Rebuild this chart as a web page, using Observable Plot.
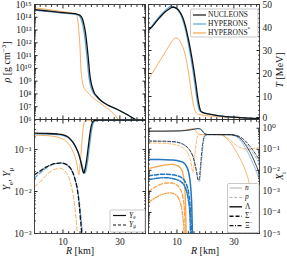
<!DOCTYPE html>
<html><head><meta charset="utf-8">
<script src="https://cdn.jsdelivr.net/npm/d3@7"></script>
<script src="https://cdn.jsdelivr.net/npm/@observablehq/plot@0.6"></script>
<style>
body{margin:0;background:#fff;}
#fig{position:relative;width:287px;height:257px;overflow:hidden;background:#fff;}
</style></head><body><div id="fig"></div>
<script>
// ---------- DATA ----------
const models = ["NUCLEONS", "HYPERONS", "HYPERONS*"];
const xMajor = [10, 30];
const xMinor = [2, 4, 6, 8, 12, 14, 16, 18, 20, 22, 24, 26, 28, 32, 34, 36, 38];
const tMajorUpper = [10, 20, 30, 40, 50];
const tMajorZero = [0];

// density, log10(rho / g cm^-3)
const R_rhoN = [0,3,6,9,12,15,16,16.8,17.4,17.9,18.4,18.9,19.3,19.7,20.2,21,22,23.5,26,29,32,35.5,37];
const lgRhoN = [14.6,14.53,14.46,14.39,14.32,14.24,14.15,13.9,13.4,12.8,11.9,10.8,9.8,9.1,8.6,8.1,7.8,7.45,7.1,6.8,6.45,6.0,5.8];
const R_rhoH = [0,3,6,9,12,15,15.7,16.4,17.0,17.5,18.0,18.5,18.9,19.3,19.8,20.6,21.7,23.5,26,29,32,35.5,37];
const lgRhoH = [14.56,14.49,14.42,14.35,14.29,14.21,14.12,13.85,13.35,12.7,11.8,10.7,9.75,9.05,8.55,8.1,7.8,7.45,7.1,6.8,6.45,6.0,5.8];
const R_rhoHs = [0,5,10,14,14.8,15.3,15.7,16.0,16.3,16.6,17.0,17.6,18.5,20,23,26,28,29.5,30.5];
const lgRhoHs = [14.74,14.6,14.44,14.28,14.15,13.6,12.6,11.6,10.0,9.3,8.75,8.4,8.15,7.8,7.3,6.8,6.4,6.0,5.7];

// temperature, MeV
const R_TN = [0,1,3,5,7,8.5,10,11,12,13,14,15,16,16.7,17.3,17.8,18.3,19,21,25,30,35,39];
const TN = [39,40,43,45.8,47.8,48.8,48.2,46.8,44.5,40.5,35,28.5,21,15,9.5,6,3.8,3.1,2.4,1.6,1.0,0.6,0.4];
const R_TH = [0,2,4,6,8,9,10,11,12,13,14,15,16,16.6,17.2,17.7,18.3,19,21,25,30,35,39];
const TH = [38.4,42,45,47.5,49.3,49,48,46.3,43.5,39,33,26,18,12.5,7.5,4.6,3.4,3.0,2.4,1.6,1.0,0.6,0.4];
const R_THs = [0,2,4,6,8,9.5,10.5,11.5,12.5,13.5,14.3,15,15.5,16,16.6,17.5,20,25,30,35,39];
const THs = [17.7,21.5,25.5,29.5,33.5,35.5,35,33,30,24.5,18.4,12.5,8.3,5.3,3.2,2.3,1.7,1.2,0.8,0.5,0.35];

// electron fraction
const R_YeN = [0,4,8,10,11.5,12.5,13.5,14.5,15.5,16.3,16.9,17.3,17.7,18.2,18.7,19.2,19.7,20.2,20.8,22,39];
const YeN = [0.245,0.242,0.235,0.225,0.205,0.18,0.15,0.115,0.08,0.05,0.032,0.027,0.033,0.05,0.09,0.17,0.3,0.42,0.48,0.5,0.5];
const R_YeH = [0,4,8,10,11.5,12.5,13.5,14.5,15.5,16.5,17.2,17.7,18.1,18.6,19.1,19.6,20.1,20.6,21.2,22.5,39];
const YeH = [0.235,0.233,0.226,0.216,0.198,0.175,0.145,0.112,0.078,0.048,0.032,0.027,0.032,0.05,0.09,0.17,0.3,0.42,0.48,0.5,0.5];
const R_YeHs = [0,4,7,9,10.5,12,13.2,14.2,14.9,15.3,15.6,15.9,16.2,16.5,16.8,17.1,17.5,18.2,39];
const YeHs = [0.22,0.215,0.205,0.19,0.17,0.135,0.1,0.068,0.045,0.03,0.025,0.035,0.06,0.11,0.2,0.33,0.45,0.5,0.5];

// muon fraction
const R_YmN = [0,2,4,6,8,9.5,11,12.5,13.5,14.3,14.9,15.4,15.8,16.2,16.5,16.8];
const YmN = [0.025,0.031,0.038,0.044,0.047,0.048,0.045,0.037,0.028,0.019,0.013,0.0075,0.0042,0.002,0.0012,0.0007];
const R_YmH = [0,2,4,6,8,9.5,11,12.5,13.5,14.3,15,15.6,16.1,16.5,16.9];
const YmH = [0.021,0.028,0.036,0.043,0.047,0.047,0.044,0.036,0.027,0.019,0.012,0.0068,0.0035,0.0018,0.0009];
const R_YmHs = [0,2,4,6,8,9,10.5,12,13,13.7,14.3,14.8,15.1];
const YmHs = [0.013,0.017,0.024,0.031,0.035,0.036,0.032,0.022,0.013,0.0075,0.0035,0.0016,0.0009];

// mass fractions: neutrons
const R_nN = [0,5,10,13,15,16.5,17.3,18,18.6,19.2,19.8,21,29,30,32,34,36,38,39];
const XnN = [0.73,0.73,0.74,0.78,0.85,0.93,0.96,0.93,0.83,0.65,0.54,0.5,0.49,0.47,0.35,0.17,0.06,0.015,0.007];
const R_nH = [0,5,10,13,15,16.5,17.6,18.3,18.9,19.5,20.1,21.5,29,30,32,34,36,38,39];
const XnH = [0.72,0.72,0.74,0.79,0.86,0.93,0.96,0.92,0.8,0.63,0.54,0.5,0.49,0.45,0.3,0.12,0.035,0.008,0.0035];
const R_nHs = [0,5,9,11,13,14.5,15.5,16.1,16.6,17.1,17.8,19,25,26.5,28,30,32,34,35.5,36.5,37.5];
const XnHs = [0.72,0.72,0.73,0.76,0.83,0.9,0.95,0.9,0.75,0.6,0.52,0.5,0.5,0.42,0.28,0.12,0.04,0.01,0.002,0.0002,0.000005];
// protons
const R_pN = [0,4,8,10,12,13.5,14.5,15.5,16.3,16.9,17.4,17.8,18.2,18.6,19,19.5,20,21,29,30,32,34,36,38,39];
const XpN = [0.25,0.245,0.235,0.22,0.18,0.13,0.09,0.05,0.02,0.008,0.0035,0.0035,0.012,0.05,0.17,0.38,0.47,0.5,0.5,0.48,0.4,0.25,0.12,0.05,0.03];
const R_pH = [0,4,8,10,12,13.5,14.5,15.5,16.5,17.1,17.6,18,18.4,18.8,19.2,19.7,20.3,21.5,29,30,32,34,36,38,39];
const XpH = [0.235,0.232,0.222,0.21,0.17,0.125,0.088,0.05,0.018,0.007,0.003,0.003,0.011,0.045,0.15,0.36,0.46,0.5,0.5,0.47,0.36,0.2,0.09,0.035,0.02];
const R_pHs = [0,4,7,9,10.5,12,13.2,14.2,14.9,15.3,15.6,15.9,16.2,16.5,16.8,17.1,17.5,18.2,25,27,29,31,33,35,37,39];
const XpHs = [0.2,0.195,0.185,0.17,0.15,0.12,0.085,0.05,0.025,0.012,0.008,0.013,0.04,0.1,0.22,0.36,0.46,0.5,0.5,0.4,0.25,0.15,0.11,0.1,0.11,0.13];
// hyperons (HYPERONS)
const R_LH = [0,4,8,10,11.5,12.5,13.3,14,14.5,14.9,15.2,15.5];
const XLH = [0.033,0.033,0.031,0.029,0.026,0.022,0.016,0.009,0.004,0.0012,0.0002,0.000005];
const R_SH = [0,3,5.5,8,10,11.5,12.5,13.3,14,14.5,14.9,15.2];
const XSH = [0.0055,0.0062,0.0066,0.0063,0.0056,0.0046,0.0035,0.0022,0.001,0.0003,0.00005,0.000005];
const R_XH = [0,3,5.5,8,10,11.5,12.5,13.3,14,14.5,14.8];
const XXH = [0.0036,0.0042,0.0045,0.0042,0.0036,0.0028,0.002,0.0011,0.0004,0.0001,0.000005];
// hyperons (HYPERONS*)
const R_LHs = [0,3,6,8,10,11,12,12.6,13.0,13.3];
const XLHs = [0.012,0.015,0.018,0.019,0.017,0.014,0.008,0.0025,0.0003,0.000005];
const R_SHs = [0,3,6,8,10,11,12,12.6,13];
const XSHs = [0.001,0.0018,0.0025,0.0025,0.002,0.0014,0.0006,0.00015,0.000005];
const R_XHs = [0,3,6,8,9.5,10.8,11.8,12.4,12.7];
const XXHs = [0.0003,0.00055,0.0008,0.00085,0.0007,0.0004,0.00012,0.00002,0.000005];

// ---------- STYLE ----------
const FONT = '"Liberation Serif", "DejaVu Serif", serif';
const C = {N: "#111111", H: "#5aa6dc", Hs: "#f7a44d", Hd: "#1f77c0", Hn: "#79b3df"};
const SUP = {"0":"⁰","1":"¹","2":"²","3":"³","4":"⁴","5":"⁵","6":"⁶","7":"⁷","8":"⁸","9":"⁹","-":"⁻"};
const pow10 = d => "10" + String(Math.round(Math.log10(d))).split("").map(c => SUP[c]).join("");
const decades = (a, b) => d3.range(a, b + 1).map(e => +(10 ** e).toPrecision(6));
const minors = (a, b, hi) => { const o = []; for (let e = a; e <= b; e++) for (let k = 2; k <= 9; k++) { const v = +(k * 10 ** e).toPrecision(6); if (v < hi) o.push(v); } return o; };
const tbl = (Rs, vs, f = v => v) => Rs.map((R, i) => ({R, v: f(vs[i])}));
const L = (data, o) => Plot.line(data, {x: "R", y: "v", curve: "monotone-x", clip: true, ...o});

const TK = 3.5, TKm = 1.8, blank = () => "";
function xAxes(labels) {
  return [
    Plot.axisX({anchor: "bottom", ticks: xMajor, tickSize: -TK, tickPadding: 8, tickFormat: labels ? d => String(d) : blank, label: null}),
    Plot.axisX({anchor: "bottom", ticks: xMinor, tickSize: -TKm, tickFormat: blank, label: null}),
    Plot.axisX({anchor: "top", ticks: xMajor, tickSize: -TK, tickFormat: blank, label: null}),
    Plot.axisX({anchor: "top", ticks: xMinor, tickSize: -TKm, tickFormat: blank, label: null})
  ];
}
function yAxes(side, major, minor, fmt, extra = []) {
  const other = side === "left" ? "right" : "left";
  return [
    Plot.axisY({anchor: side, ticks: major, tickSize: -TK, tickPadding: 6.5, tickFormat: fmt, label: null}),
    Plot.axisY({anchor: side, ticks: minor, tickSize: -TKm, tickFormat: blank, label: null}),
    Plot.axisY({anchor: other, ticks: major, tickSize: -TK, tickFormat: blank, label: null}),
    Plot.axisY({anchor: other, ticks: minor, tickSize: -TKm, tickFormat: blank, label: null}),
    ...extra
  ];
}
const fig = document.getElementById("fig");
function panel({left, top, width, height, mt, mr, mb, ml, y, marks}) {
  const svg = Plot.plot({
    width, height, marginTop: mt, marginRight: mr, marginBottom: mb, marginLeft: ml,
    style: {fontFamily: FONT, fontSize: "9.5px", background: "transparent", overflow: "visible", color: "#222"},
    x: {domain: [0, 39]}, y, marks
  });
  Object.assign(svg.style, {position: "absolute", left: left + "px", top: top + "px"});
  fig.appendChild(svg);
}
const frame = Plot.frame({stroke: "#333", strokeWidth: 0.9});
const exp10 = v => 10 ** v;

// ---------- TOP LEFT: density ----------
panel({left: 0, top: 0, width: 146, height: 121, mt: 4, mb: 2, ml: 34, mr: 1,
  y: {type: "log", domain: [1e6, 1e15]},
  marks: [
    L(tbl(R_rhoHs, lgRhoHs, exp10), {stroke: C.Hs, strokeWidth: 0.9}),
    L(tbl(R_rhoH, lgRhoH, exp10), {stroke: C.H, strokeWidth: 1.2}),
    L(tbl(R_rhoN, lgRhoN, exp10), {stroke: C.N, strokeWidth: 1.3}),
    ...xAxes(false), ...yAxes("left", decades(6, 15), minors(6, 14, 1e15), pow10), frame
  ]});

// ---------- TOP RIGHT: temperature ----------
panel({left: 147, top: 0, width: 140, height: 121, mt: 4, mb: 2, ml: 1, mr: 28,
  y: {domain: [0, 50]},
  marks: [
    L(tbl(R_THs, THs), {stroke: C.Hs, strokeWidth: 0.9}),
    L(tbl(R_TH, TH), {stroke: C.H, strokeWidth: 1.2}),
    L(tbl(R_TN, TN), {stroke: C.N, strokeWidth: 1.3}),
    ...xAxes(false),
    ...yAxes("right", tMajorUpper, d3.range(2, 50, 2).filter(d => d % 10), d => String(d), [
      Plot.axisY({anchor: "right", ticks: tMajorZero, tickSize: -TK, tickPadding: 6.5, dy: -2, tickFormat: d => String(d), label: null}),
      Plot.axisY({anchor: "left", ticks: tMajorZero, tickSize: -TK, tickFormat: blank, label: null})
    ]),
    frame
  ]});

// ---------- BOTTOM LEFT: Ye, Ymu ----------
const dashM = "4,2.4";
panel({left: 0, top: 117, width: 146, height: 140, mt: 2, mb: 24, ml: 34, mr: 1,
  y: {type: "log", domain: [1e-3, 0.52]},
  marks: [
    L(tbl(R_YmHs, YmHs), {stroke: C.Hs, strokeWidth: 0.9, strokeDasharray: dashM}),
    L(tbl(R_YmH, YmH), {stroke: C.H, strokeWidth: 1.2, strokeDasharray: dashM}),
    L(tbl(R_YmN, YmN), {stroke: C.N, strokeWidth: 1.3, strokeDasharray: dashM}),
    L(tbl(R_YeHs, YeHs), {stroke: C.Hs, strokeWidth: 0.9}),
    L(tbl(R_YeH, YeH), {stroke: C.H, strokeWidth: 1.2}),
    L(tbl(R_YeN, YeN), {stroke: C.N, strokeWidth: 1.3}),
    ...xAxes(true), ...yAxes("left", decades(-3, -1), minors(-3, -1, 0.52), pow10), frame
  ]});

// ---------- BOTTOM RIGHT: mass fractions ----------
const dp = "3,1.8", dS = "4,2", dX = "4,1.5,1,1.5";
panel({left: 147, top: 117, width: 140, height: 140, mt: 2, mb: 24, ml: 1, mr: 28,
  y: {type: "log", domain: [1e-5, 2.6]},
  marks: [
    L(tbl(R_nHs, XnHs), {stroke: C.Hs, strokeWidth: 0.8}),
    L(tbl(R_pHs, XpHs), {stroke: C.Hs, strokeWidth: 0.8, strokeDasharray: dp}),
    L(tbl(R_nH, XnH), {stroke: C.Hn, strokeWidth: 0.8}),
    L(tbl(R_pH, XpH), {stroke: C.Hn, strokeWidth: 0.8, strokeDasharray: dp}),
    L(tbl(R_nN, XnN), {stroke: C.N, strokeWidth: 0.8}),
    L(tbl(R_pN, XpN), {stroke: C.N, strokeWidth: 0.8, strokeDasharray: dp}),
    L(tbl(R_LHs, XLHs), {stroke: C.Hs, strokeWidth: 1.3}),
    L(tbl(R_SHs, XSHs), {stroke: C.Hs, strokeWidth: 1.3, strokeDasharray: dS}),
    L(tbl(R_XHs, XXHs), {stroke: C.Hs, strokeWidth: 1.3, strokeDasharray: dX}),
    L(tbl(R_LH, XLH), {stroke: C.Hd, strokeWidth: 1.5}),
    L(tbl(R_SH, XSH), {stroke: C.Hd, strokeWidth: 1.5, strokeDasharray: dS}),
    L(tbl(R_XH, XXH), {stroke: C.Hd, strokeWidth: 1.5, strokeDasharray: dX}),
    ...xAxes(true), ...yAxes("right", decades(-5, 0), minors(-5, 0, 2.6), pow10), frame
  ]});

// ---------- OVERLAY: axis labels and legends ----------
const ov = d3.select(fig).append("svg").attr("width", 287).attr("height", 257)
  .style("position", "absolute").style("left", "0").style("top", "0")
  .style("overflow", "visible").style("font-family", FONT).attr("fill", "#111");

function rich(g, x, y, segs, {size = 10, rotate = 0, anchor = "middle"} = {}) {
  const t = g.append("text").attr("transform", `translate(${x},${y}) rotate(${rotate})`)
    .attr("text-anchor", anchor).attr("font-size", size).attr("dominant-baseline", "middle");
  let shift = 0;
  for (const s of segs) {
    const ts = t.append("tspan").text(s.t);
    const target = s.sup ? -size * 0.38 : s.sub ? size * 0.28 : 0;
    if (target !== shift) { ts.attr("dy", target - shift); shift = target; }
    if (s.sup || s.sub) ts.attr("font-size", size * 0.7);
    if (s.it) ts.attr("font-style", "italic");
  }
  return t;
}
rich(ov, 8, 62, [{t: "ρ", it: true}, {t: "  [g cm"}, {t: "−3", sup: true}, {t: "]"}], {rotate: -90});
rich(ov, 281, 70, [{t: "T", it: true}, {t: "  [MeV]"}], {rotate: -90});
rich(ov, 8, 179, [{t: "Y", it: true}, {t: "e", sub: true}, {t: ",  "}, {t: "Y", it: true}, {t: "μ", sub: true}], {rotate: -90});
rich(ov, 281, 176, [{t: "X", it: true}, {t: "i", sub: true}], {rotate: -90});
rich(ov, 80, 252, [{t: "R", it: true}, {t: "  [km]"}]);
rich(ov, 205, 252, [{t: "R", it: true}, {t: "  [km]"}]);

function legendBox(x, y, w, h) {
  ov.append("rect").attr("x", x).attr("y", y).attr("width", w).attr("height", h)
    .attr("rx", 1.5).attr("fill", "#fff").attr("stroke", "#bbb").attr("stroke-width", 0.8);
}
function swatch(x1, x2, y, stroke, width, dash) {
  ov.append("line").attr("x1", x1).attr("x2", x2).attr("y1", y).attr("y2", y)
    .attr("stroke", stroke).attr("stroke-width", width).attr("stroke-dasharray", dash || null);
}
// top-right legend
legendBox(190.5, 9, 67.5, 28);
const legCols = [C.N, C.H, C.Hs];
models.forEach((m, i) => {
  const yy = 15 + i * 9;
  swatch(193, 206, yy, legCols[i], 1.2);
  const segs = m.endsWith("*") ? [{t: m.slice(0, -1)}, {t: "*", sup: true}] : [{t: m}];
  rich(ov, 208, yy, segs, {size: 7.5, anchor: "start"});
});
// bottom-left legend
legendBox(110, 210, 35, 22);
swatch(113, 126, 215.5, C.N, 1.2);
rich(ov, 129, 215.5, [{t: "Y", it: true}, {t: "e", sub: true}], {size: 7.5, anchor: "start"});
swatch(113, 126, 225, C.N, 1.2, "3,2");
rich(ov, 129, 225, [{t: "Y", it: true}, {t: "μ", sub: true}], {size: 7.5, anchor: "start"});
// bottom-right legend
legendBox(227.5, 183.5, 31.5, 49);
const spItems = [
  {segs: [{t: "n", it: true}], c: "#999", w: 0.8, d: null},
  {segs: [{t: "p", it: true}], c: "#999", w: 0.8, d: "3,1.8"},
  {segs: [{t: "Λ"}], c: "#111", w: 1.4, d: null},
  {segs: [{t: "Σ"}, {t: "−", sup: true}], c: "#111", w: 1.4, d: "4,2"},
  {segs: [{t: "Ξ"}, {t: "−", sup: true}], c: "#111", w: 1.4, d: "4,1.5,1,1.5"}
];
spItems.forEach((it, i) => {
  const yy = 188 + i * 9.4;
  swatch(229.5, 242, yy, it.c, it.w, it.d);
  rich(ov, 245, yy, it.segs, {size: 7.5, anchor: "start"});
});
</script></body></html>
